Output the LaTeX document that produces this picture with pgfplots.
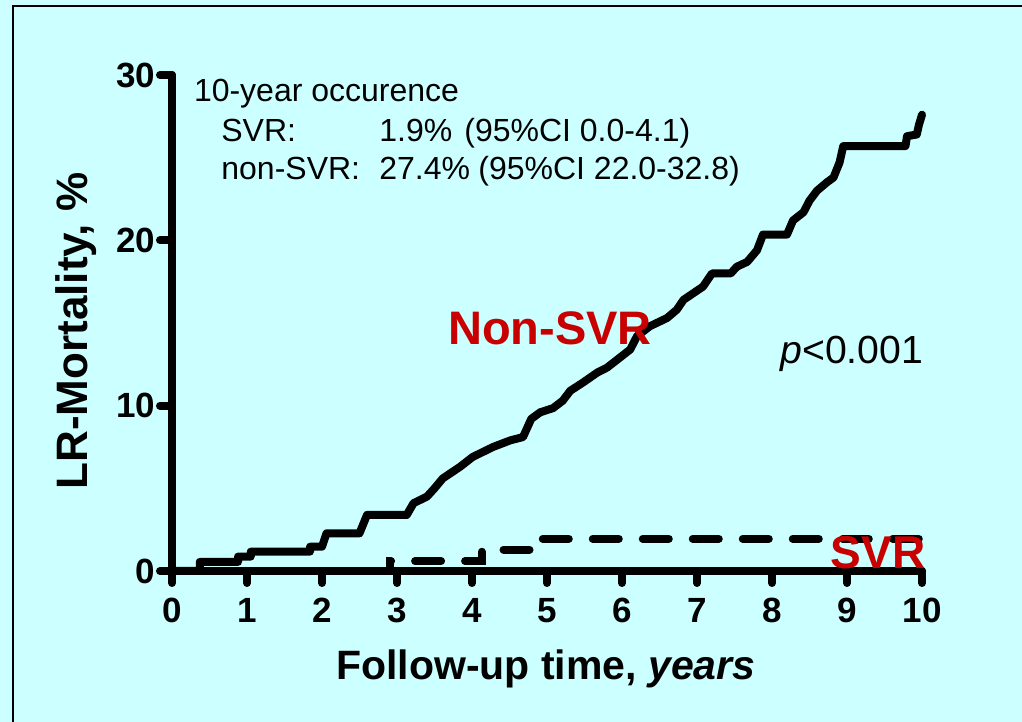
\documentclass[border=0pt]{standalone}
\usepackage{pgfplots}
\pgfplotsset{compat=1.18}
\usepackage{fontspec}
\setmainfont{Liberation Sans}
\definecolor{bgc}{RGB}{204,255,255}
\definecolor{redt}{RGB}{200,0,0}
\begin{document}
\begin{tikzpicture}[x=1pt,y=1pt]
\path[use as bounding box] (0,0) rectangle (511,361);
\fill[bgc] (0,0) rectangle (511,361);
\draw[line width=1pt] (6.5,0) -- (6.5,358) -- (511,358);
\begin{axis}[
  at={(86pt,75.5pt)}, anchor=south west,
  scale only axis, width=375pt, height=248pt,
  xmin=0, xmax=10, ymin=0, ymax=30,
  axis x line=bottom, axis y line=left,
  axis line style={-, line width=4pt, line cap=round, black},
  xtick={0,1,...,10}, ytick={0,10,20,30},
  tick align=outside, major tick length=6pt,
  tick style={draw=black, line width=4pt, line cap=round},
  ticklabel style={font=\bfseries\fontsize{17.5}{20}\selectfont},
  xticklabel style={yshift=-4pt},
  yticklabel style={xshift=1pt},
  /pgf/number format/assume math mode=true,
  axis on top,
  clip=false,
]
\addplot[black, line width=4pt, line join=round, line cap=round] coordinates {
(0,0) (0.37,0) (0.37,0.55) (0.88,0.55) (0.88,0.87) (1.05,0.87) (1.05,1.17) (1.84,1.17)
(1.84,1.47) (2.0,1.47) (2.06,2.28) (2.5,2.28) (2.6,3.39) (3.13,3.39) (3.22,4.1) (3.4,4.5)
(3.5,5.0) (3.61,5.6) (3.84,6.3) (4.01,6.9) (4.28,7.5) (4.51,7.9) (4.68,8.1) (4.73,8.6)
(4.79,9.2) (4.91,9.6) (5.08,9.85) (5.21,10.3) (5.31,10.9) (5.48,11.4) (5.67,12.0) (5.8,12.3)
(5.97,12.9) (6.11,13.4) (6.2,14.2) (6.37,14.8) (6.6,15.3) (6.73,15.8) (6.82,16.4) (6.95,16.8)
(7.08,17.2) (7.2,18.0) (7.45,18.0) (7.53,18.4) (7.67,18.7) (7.8,19.4) (7.88,20.35) (8.2,20.35)
(8.28,21.2) (8.42,21.7) (8.5,22.4) (8.6,23.0) (8.73,23.5) (8.82,23.8) (8.9,24.7) (8.95,25.7)
(9.78,25.7) (9.8,26.3) (9.93,26.4) (9.96,27.0) (10,27.6)
};
\addplot[black, line width=4pt, line cap=round, dash pattern=on 13pt off 12pt, dash phase=23.5pt] coordinates {
(0,0) (2.9,0) (2.9,0.6) (4.13,0.6) (4.13,1.3) (4.85,1.3) (4.85,1.95) (10,1.95)
};
\end{axis}
\node[anchor=base, text=redt, font=\bfseries\fontsize{23.5}{28}\selectfont] at (275,188.5) {Non-SVR};
\node[anchor=base, text=redt, font=\bfseries\fontsize{23}{28}\selectfont, inner sep=0pt] at (439,76.9) {SVR};
\node[anchor=base west, inner sep=0pt, font=\fontsize{19.6}{22}\selectfont] at (390,179.3) {\textit{p}<0.001};
\begin{scope}[every node/.style={anchor=base west, inner sep=0pt, font=\fontsize{16}{18}\selectfont}]
\node at (96.8,310.2) {10-year occurence};
\node at (110.5,290.2) {SVR:};
\node at (189.5,290.2) {1.9\%};
\node at (232,290.2) {(95\%CI 0.0-4.1)};
\node at (110.5,271) {non-SVR:};
\node at (189.5,271) {27.4\%};
\node at (239,271) {(95\%CI 22.0-32.8)};
\end{scope}
\node[anchor=base, inner sep=0pt, font=\bfseries\fontsize{20.5}{24}\selectfont] at (272.9,21) {Follow-up time, \textit{years}};
\node[anchor=base, rotate=90, inner sep=0pt, font=\bfseries\fontsize{22}{24}\selectfont] at (43.5,195.5) {LR-Mortality, \%};
\end{tikzpicture}
\end{document}
